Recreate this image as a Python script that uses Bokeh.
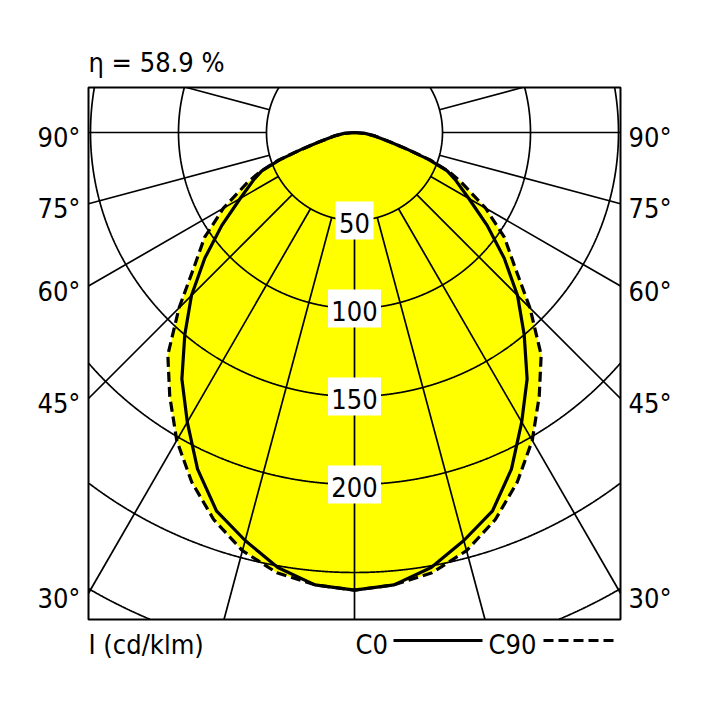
import numpy as np
from bokeh.plotting import figure
from bokeh.models import Range1d
from bokeh.core.properties import value
from bokeh.embed import file_html
from bokeh.resources import INLINE

# luminous intensity (cd/klm) against gamma angle from nadir
gamma = [0, 5, 10, 15, 20, 25, 30, 35, 40, 45, 50, 55, 60, 65, 67.5, 70, 72.5, 75, 80, 85, 90]
c0 = [260, 258, 251, 240, 229, 211, 190, 171, 150, 131, 111, 92, 75, 63, 57, 45, 31, 21, 12, 6, 0]
c90 = [260, 258, 254, 246, 234, 219, 202, 183, 165, 141, 119, 104, 86, 67, 58, 46, 31, 21, 12, 6, 0]

rings = [50, 100, 150, 200, 250, 300]
ring_labels = ["50", "100", "150", "200"]
ray_step = 15
angle_ticks = [30, 45, 60, 75, 90]
eta_text = "η = 58.9 %"
unit_text = "I (cd/klm)"
legend_names = ["C0", "C90"]

# look
FONT = "DejaVu Sans Condensed"
FONT_SIZE = "27px"
yellow = "#ffff00"
S = 1.76              # px per cd/klm
W = H = 700
OX, OY = 354, 132     # polar origin on the canvas, px
BOX = (88, 620, 87, 619)  # left, right, top, bottom, px


def X(px_x):
    return (px_x - OX) / S


def Y(px_y):
    return (OY - px_y) / S


bl, br, bt, bb = X(BOX[0]), X(BOX[1]), Y(BOX[2]), Y(BOX[3])


def curve(vals):
    g = np.radians(gamma)
    v = np.array(vals, dtype=float)
    x = v * np.sin(g)
    y = -v * np.cos(g)
    return np.concatenate([-x[::-1], x[1:]]), np.concatenate([y[::-1], y[1:]])


def clip_ring(r):
    t = np.radians(np.arange(0, 360.05, 0.1))
    x, y = r * np.sin(t), -r * np.cos(t)
    out = (x < bl) | (x > br) | (y > bt) | (y < bb)
    x[out] = np.nan
    y[out] = np.nan
    return x, y


def ray_end(a):
    dx, dy = np.sin(a), -np.cos(a)
    ts = []
    if dx > 1e-9:
        ts.append(br / dx)
    if dx < -1e-9:
        ts.append(bl / dx)
    if dy > 1e-9:
        ts.append(bt / dy)
    if dy < -1e-9:
        ts.append(bb / dy)
    t = min(ts)
    return t * dx, t * dy


p = figure(width=W, height=H, min_border=0,
           x_range=Range1d(X(0), X(W)), y_range=Range1d(Y(H), Y(0)),
           x_axis_type=None, y_axis_type=None,
           toolbar_location=None, tools="", output_backend="svg")
p.outline_line_color = None
p.background_fill_color = "white"
p.border_fill_color = "white"

xs0, ys0 = curve(c0)
xs90, ys90 = curve(c90)

# yellow area under both curves
p.patch(xs90, ys90, fill_color=yellow, line_color=None)
p.patch(xs0, ys0, fill_color=yellow, line_color=None)

# polar grid, kept inside the box
for r in rings:
    cx, cy = clip_ring(r)
    p.line(cx, cy, line_color="black", line_width=1.7)
rx, ry = [], []
for a in np.radians(np.arange(-105, 106, ray_step)):
    ex, ey = ray_end(a)
    if rings[0] < np.hypot(ex, ey):
        rx.append([rings[0] * np.sin(a), ex])
        ry.append([-rings[0] * np.cos(a), ey])
p.multi_line(rx, ry, line_color="black", line_width=1.7)

# the box
p.quad(left=[bl], right=[br], top=[bt], bottom=[bb],
       fill_color=None, line_color="black", line_width=2)

# ring value labels on white boxes
ly = [-float(r) for r in rings[:len(ring_labels)]]
p.rect(x=[0] * len(ly), y=ly, width=[len(s) * 15 + 8 for s in ring_labels], height=38,
       width_units="screen", height_units="screen", fill_color="white", line_color=None)
p.text(x=[0] * len(ly), y=[v - 2 / S for v in ly], text=ring_labels,
       text_align="center", text_baseline="middle",
       text_font=value(FONT), text_font_size=FONT_SIZE, text_color="black")

# curves
p.line(xs0, ys0, line_color="black", line_width=3.2)
p.line(xs90, ys90, line_color="black", line_width=3.2, line_dash="10 5")


def txt(x, y, s, align="left"):
    p.text(x=[x], y=[y], text=[s], text_align=align, text_baseline="middle",
           text_font=value(FONT), text_font_size=FONT_SIZE, text_color="black")


# angle labels at both sides of the box
for t in angle_ticks:
    r = np.radians(t)
    yy = bl * np.cos(r) / np.sin(r) - 5 / S
    txt(bl - 8 / S, yy, f"{t}°", align="right")
    txt(br + 8 / S, yy, f"{t}°", align="left")

txt(bl, Y(62), eta_text)
txt(bl, Y(644), unit_text)
txt(X(355), Y(644), legend_names[0])
txt(X(488), Y(644), legend_names[1])
p.line([X(393), X(482)], [Y(640), Y(640)], line_color="black", line_width=3)
p.line([X(543), X(617)], [Y(640), Y(640)], line_color="black", line_width=3, line_dash="10 5")

open("out.html", "w").write(file_html(p, INLINE))
